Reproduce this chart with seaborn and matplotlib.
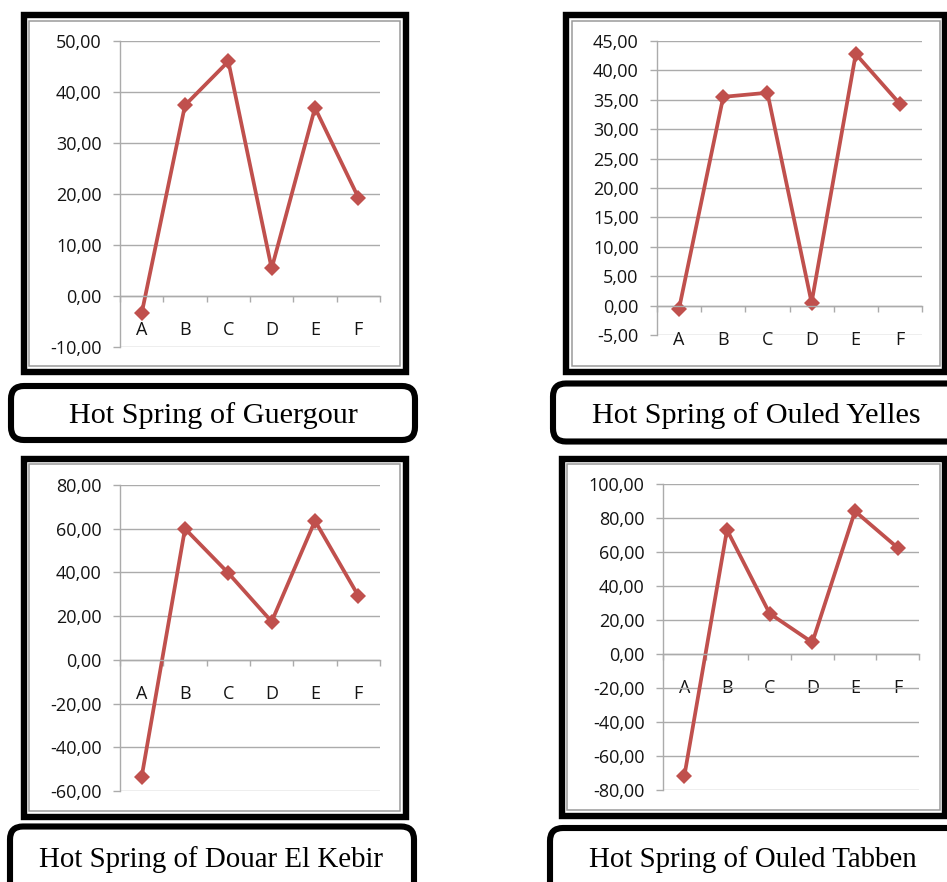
import matplotlib
matplotlib.use("Agg")
import matplotlib.pyplot as plt
from matplotlib.patches import Rectangle, FancyBboxPatch
from matplotlib.transforms import IdentityTransform
from matplotlib.ticker import FuncFormatter, FixedLocator, MultipleLocator
import seaborn as sns

# Sampling points shared by every spring
categories = ["A", "B", "C", "D", "E", "F"]

# Measured values per hot spring
guergour = [-3.4, 37.4, 46.0, 5.4, 36.9, 19.3]
ouled_yelles = [-0.5, 35.5, 36.2, 0.5, 42.8, 34.3]
douar_el_kebir = [-53.5, 60.0, 39.7, 17.5, 63.6, 29.3]
ouled_tabben = [-71.8, 73.0, 23.8, 6.8, 84.0, 62.5]

titles = [
    "Hot Spring of Guergour",
    "Hot Spring of Ouled Yelles",
    "Hot Spring of Douar El Kebir",
    "Hot Spring of Ouled Tabben",
]

W, H = 947, 882
DPI = 100

sns.set_style("white")
plt.rcParams["font.family"] = ["Open Sans", "DejaVu Sans"]

LINE = "#C0504D"
GRID = "#ABABAB"
TXT = "#141414"

fig = plt.figure(figsize=(W / DPI, H / DPI), dpi=DPI)
fig.patch.set_facecolor("white")

ident = IdentityTransform()


def px_rect(x0, y0, x1, y1, **kw):
    """Rectangle given in pixel coords measured from the top-left corner."""
    return Rectangle((x0, H - y1), x1 - x0, y1 - y0, transform=ident, **kw)


def frame(x0, y0, x1, y1):
    # thick black border with a thin grey inner rule
    fig.add_artist(px_rect(x0, y0, x1, y1, fill=False, ec="black", lw=4.6))
    fig.add_artist(px_rect(x0 + 5.5, y0 + 5.5, x1 - 5.5, y1 - 5.5,
                           fill=False, ec="#9A9A9A", lw=1.1))


def caption(x0, y0, x1, y1, text, tx, ty, size):
    box = FancyBboxPatch((x0, H - y1), x1 - x0, y1 - y0,
                         boxstyle="round,pad=0,rounding_size=13",
                         transform=ident, fc="white", ec="black", lw=4.4)
    fig.add_artist(box)
    fig.text(tx / W, 1 - ty / H, text, ha="center", va="center",
             fontsize=size, family=["Liberation Serif", "DejaVu Serif"],
             color="black")


def panel(box, values, ylim, step):
    x0, y0, x1, y1 = box
    ax = fig.add_axes([x0 / W, 1 - y1 / H, (x1 - x0) / W, (y1 - y0) / H])
    ax.set_facecolor("none")
    sns.lineplot(x=categories, y=values, ax=ax, color=LINE, lw=2.7,
                 marker="D", markersize=8.3, markeredgewidth=0, sort=False)
    ax.set_xlim(-0.5, len(categories) - 0.5)
    ax.set_ylim(*ylim)
    ax.yaxis.set_major_locator(MultipleLocator(step))
    ax.yaxis.set_major_formatter(
        FuncFormatter(lambda v, p: f"{v:.2f}".replace(".", ",").replace("-0,00", "0,00")))
    ax.grid(axis="y", color=GRID, lw=1.0)
    ax.grid(axis="x", visible=False)
    for s in ("top", "right"):
        ax.spines[s].set_visible(False)
    ax.spines["left"].set_color(GRID)
    ax.spines["left"].set_linewidth(1.0)
    ax.spines["bottom"].set_position(("data", 0))
    ax.spines["bottom"].set_color(GRID)
    ax.spines["bottom"].set_linewidth(1.0)
    ax.tick_params(axis="y", direction="out", length=5.2, width=1.0,
                   color=GRID, pad=8.0, labelsize=13, labelcolor=TXT, left=True)
    ax.xaxis.set_minor_locator(FixedLocator([i - 0.5 for i in range(len(categories) + 1)]))
    ax.tick_params(axis="x", which="minor", direction="out", length=4.5,
                   width=1.0, color=GRID, bottom=True)
    ax.tick_params(axis="x", which="major", length=0, pad=18.0,
                   labelsize=13, labelcolor=TXT)
    ax.set_xlabel("")
    ax.set_ylabel("")
    for lbl in ax.get_yticklabels():
        lbl.set_horizontalalignment("right")
    return ax


# chart frames
frame(23.5, 15, 405.5, 371.5)
frame(566, 15, 945, 371.5)
frame(23.5, 458.5, 405.5, 816.5)
frame(561.5, 458.5, 945, 815.5)

panel((120, 41, 380, 347), guergour, (-10, 50), 10)
panel((657, 41, 922, 335), ouled_yelles, (-5, 45), 5)
panel((120, 485, 380, 791), douar_el_kebir, (-60, 80), 20)
panel((663, 484, 919, 790), ouled_tabben, (-80, 100), 20)

# caption boxes
caption(11, 386, 415, 440, titles[0], 213, 416, 21.8)
caption(553, 383.5, 975, 441.5, titles[1], 756, 416, 21.8)
caption(10, 826.5, 414, 900, titles[2], 211, 860, 20.8)
caption(550, 828, 975, 900, titles[3], 753, 860, 20.8)

fig.savefig("out.png", dpi=DPI, facecolor="white")
